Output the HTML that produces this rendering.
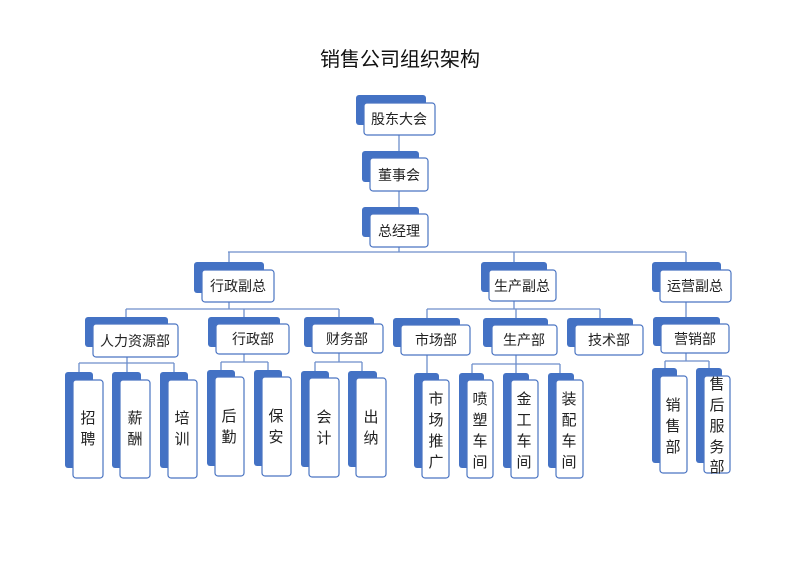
<!DOCTYPE html>
<html><head><meta charset="utf-8"><style>
html,body{margin:0;padding:0;background:#fff;}
svg{display:block;font-family:"Liberation Sans","Noto Sans CJK SC",sans-serif;}
.b{fill:#4472c4;}
.f{fill:#fff;stroke:#4a74c2;stroke-width:1.2;}
.l{stroke:#6d8ecb;stroke-width:1.3;fill:none;}
text{fill:#222;font-size:14px;text-anchor:middle;}
.v{font-size:15px;}
</style></head><body>
<svg width="800" height="565" viewBox="0 0 800 565">
<text x="400" y="66" style="font-size:20px;fill:#111">销售公司组织架构</text>
<!-- connectors -->
<path class="l" d="M399 135V158M399 191V214M399 247V252M228 252H686M229 252V270M514 252V270M686 252V270
M126 309H339M229 302V309M126 309V324M244 309V324M339 309V324
M427 309H600M514 301V309M427 309V325M516 309V325M600 309V325
M686 302V324
M79 363H174M127 357V363M79 363V380M127 363V380M174 363V380
M221 362H268M244 354V362M221 362V377M268 362V377
M315 362H362M339 353V362M315 362V377M362 362V377
M427 355V380
M472 364H560M516 355V364M472 364V380M516 364V380M560 364V380
M665 361H709M686 353V361M665 361V376M709 361V376"/>
<!-- top nodes -->
<rect class="b" x="356" y="95" width="70" height="30" rx="3"/><rect class="f" x="364" y="103" width="71" height="32" rx="3"/><text x="399" y="124">股东大会</text>
<rect class="b" x="362" y="151" width="57" height="31" rx="3"/><rect class="f" x="370" y="158" width="58" height="33" rx="3"/><text x="399" y="180">董事会</text>
<rect class="b" x="362" y="207" width="57" height="30" rx="3"/><rect class="f" x="370" y="214" width="58" height="33" rx="3"/><text x="399" y="236">总经理</text>
<!-- VPs -->
<rect class="b" x="194" y="262" width="70" height="31" rx="3"/><rect class="f" x="202" y="270" width="72" height="32" rx="3"/><text x="238" y="291">行政副总</text>
<rect class="b" x="481" y="262" width="66" height="30" rx="3"/><rect class="f" x="489" y="270" width="67" height="31" rx="3"/><text x="522" y="291">生产副总</text>
<rect class="b" x="652" y="262" width="69" height="30" rx="3"/><rect class="f" x="660" y="270" width="71" height="32" rx="3"/><text x="695" y="291">运营副总</text>
<!-- depts -->
<rect class="b" x="85" y="317" width="83" height="30" rx="3"/><rect class="f" x="93" y="324" width="85" height="33" rx="3"/><text x="135" y="346">人力资源部</text>
<rect class="b" x="208" y="317" width="72" height="30" rx="3"/><rect class="f" x="216" y="324" width="73" height="30" rx="3"/><text x="253" y="344">行政部</text>
<rect class="b" x="304" y="317" width="70" height="30" rx="3"/><rect class="f" x="312" y="324" width="71" height="29" rx="3"/><text x="347" y="344">财务部</text>
<rect class="b" x="393" y="318" width="67" height="29" rx="3"/><rect class="f" x="401" y="325" width="69" height="30" rx="3"/><text x="436" y="345">市场部</text>
<rect class="b" x="483" y="318" width="65" height="29" rx="3"/><rect class="f" x="492" y="325" width="65" height="30" rx="3"/><text x="524" y="345">生产部</text>
<rect class="b" x="567" y="318" width="66" height="29" rx="3"/><rect class="f" x="575" y="325" width="68" height="30" rx="3"/><text x="609" y="345">技术部</text>
<rect class="b" x="653" y="317" width="67" height="29" rx="3"/><rect class="f" x="661" y="324" width="68" height="29" rx="3"/><text x="695" y="344">营销部</text>
<!-- leaves -->
<g class="v">
<rect class="b" x="65" y="372" width="28" height="96" rx="3"/><rect class="f" x="73" y="380" width="30" height="98" rx="3"/><text class="v" x="88" y="423">招</text><text class="v" x="88" y="444">聘</text>
<rect class="b" x="112" y="372" width="29" height="96" rx="3"/><rect class="f" x="120" y="380" width="30" height="98" rx="3"/><text class="v" x="135" y="423">薪</text><text class="v" x="135" y="444">酬</text>
<rect class="b" x="160" y="372" width="28" height="96" rx="3"/><rect class="f" x="168" y="380" width="29" height="98" rx="3"/><text class="v" x="182" y="423">培</text><text class="v" x="182" y="444">训</text>
<rect class="b" x="207" y="370" width="28" height="96" rx="3"/><rect class="f" x="215" y="377" width="29" height="99" rx="3"/><text class="v" x="229" y="421">后</text><text class="v" x="229" y="442">勤</text>
<rect class="b" x="254" y="370" width="28" height="96" rx="3"/><rect class="f" x="262" y="377" width="29" height="99" rx="3"/><text class="v" x="276" y="421">保</text><text class="v" x="276" y="442">安</text>
<rect class="b" x="301" y="371" width="28" height="96" rx="3"/><rect class="f" x="309" y="378" width="30" height="99" rx="3"/><text class="v" x="324" y="422">会</text><text class="v" x="324" y="443">计</text>
<rect class="b" x="348" y="371" width="29" height="96" rx="3"/><rect class="f" x="356" y="378" width="30" height="99" rx="3"/><text class="v" x="371" y="422">出</text><text class="v" x="371" y="443">纳</text>
<rect class="b" x="414" y="373" width="25" height="95" rx="3"/><rect class="f" x="422" y="380" width="27" height="98" rx="3"/><text class="v" x="436" y="404">市</text><text class="v" x="436" y="425">场</text><text class="v" x="436" y="446">推</text><text class="v" x="436" y="467">广</text>
<rect class="b" x="459" y="373" width="25" height="95" rx="3"/><rect class="f" x="467" y="380" width="26" height="98" rx="3"/><text class="v" x="480" y="404">喷</text><text class="v" x="480" y="425">塑</text><text class="v" x="480" y="446">车</text><text class="v" x="480" y="467">间</text>
<rect class="b" x="503" y="373" width="26" height="95" rx="3"/><rect class="f" x="511" y="380" width="27" height="98" rx="3"/><text class="v" x="524" y="404">金</text><text class="v" x="524" y="425">工</text><text class="v" x="524" y="446">车</text><text class="v" x="524" y="467">间</text>
<rect class="b" x="548" y="373" width="26" height="95" rx="3"/><rect class="f" x="556" y="380" width="27" height="98" rx="3"/><text class="v" x="569" y="404">装</text><text class="v" x="569" y="425">配</text><text class="v" x="569" y="446">车</text><text class="v" x="569" y="467">间</text>
<rect class="b" x="652" y="368" width="25" height="95" rx="3"/><rect class="f" x="660" y="376" width="27" height="97" rx="3"/><text class="v" x="673" y="410">销</text><text class="v" x="673" y="431">售</text><text class="v" x="673" y="452">部</text>
<rect class="b" x="696" y="368" width="26" height="95" rx="3"/><rect class="f" x="704" y="376" width="26" height="97" rx="3"/><text class="v" x="717" y="389">售</text><text class="v" x="717" y="410">后</text><text class="v" x="717" y="431">服</text><text class="v" x="717" y="452">务</text><text class="v" x="717" y="472">部</text>
</g>
</svg>
</body></html>
